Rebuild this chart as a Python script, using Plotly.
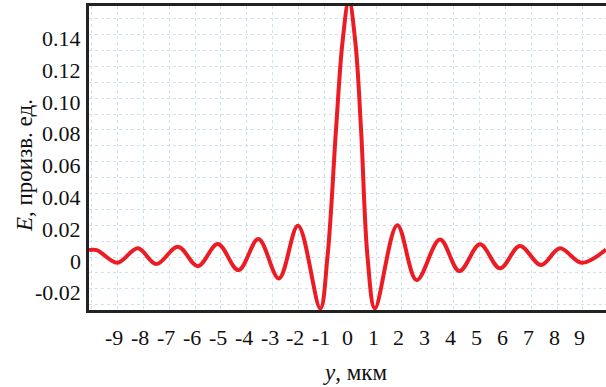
import plotly.graph_objects as go

# Data (y in µm, E in arbitrary units)
y_um = [-10.1, -9.80, -9.01, -8.21, -7.50, -6.66, -5.89, -5.12, -4.32, -3.55, -2.76, -2.02,
        -1.16, -0.88, -0.55, -0.30, -0.05, 0.20, 0.42, 0.67, 0.955,
        1.82, 2.57, 3.47, 4.22, 5.02, 5.79, 6.56, 7.38, 8.11, 8.95, 9.89]
E_vals = [0.0044, 0.0044, -0.0036, 0.0055, -0.0044, 0.0065, -0.0057, 0.0082, -0.0082, 0.0113, -0.0134, 0.0197,
          -0.0323, 0.0, 0.080, 0.135, 0.162, 0.135, 0.080, 0.0, -0.0323,
          0.0201, -0.0145, 0.0111, -0.0088, 0.0080, -0.0071, 0.0069, -0.0050, 0.0055, -0.0036, 0.0048]

x_tickvals = [-9, -8, -7, -6, -5, -4, -3, -2, -1, 0, 1, 2, 3, 4, 5, 6, 7, 8, 9]
x_ticktext = ["-9", "-8", "-7", "-6", "-5", "-4", "-3", "-2", "-1", "0", "1", "2", "3", "4", "5", "6", "7", "8", "9"]
y_tickvals = [-0.02, 0, 0.02, 0.04, 0.06, 0.08, 0.10, 0.12, 0.14]
y_ticktext = ["-0.02", "0", "0.02", "0.04", "0.06", "0.08", "0.10", "0.12", "0.14"]
x_title = "<i>y</i>, мкм"
y_title = "<i>E</i>, произв. ед."

FONT = "'Liberation Serif', 'Times New Roman', Times, serif"
GRID = "#cfe2ee"
LABELFONT = dict(family=FONT, size=22, color="#111")

fig = go.Figure()
fig.add_trace(go.Scatter(
    x=y_um, y=E_vals, mode="lines",
    line=dict(color="#ec1c24", width=4, shape="spline", smoothing=1.0),
    showlegend=False, hoverinfo="skip"))

fig.update_layout(
    width=606, height=387,
    margin=dict(l=89, r=0, t=6, b=77, autoexpand=False),
    paper_bgcolor="white", plot_bgcolor="white",
    font=dict(family=FONT, size=22, color="#111"),
)

fig.update_xaxes(
    range=[-10.1, 9.89], automargin=False,
    tickmode="array", tickvals=x_tickvals, showticklabels=False, ticks="",
    showgrid=True, gridcolor=GRID, gridwidth=1, griddash="dot",
    minor=dict(dtick=1, tick0=0, showgrid=True, gridcolor=GRID, griddash="dot"),
    showline=True, linecolor="#222", linewidth=3, mirror=True,
    zeroline=False,
)

fig.update_yaxes(
    range=[-0.0333, 0.158], automargin=False,
    tickmode="array", tickvals=y_tickvals, showticklabels=False, ticks="",
    showgrid=True, gridcolor=GRID, gridwidth=1, griddash="dot",
    minor=dict(dtick=0.01, tick0=0, showgrid=True, gridcolor=GRID, griddash="dot"),
    showline=True, linecolor="#222", linewidth=3, mirror=False,
    zeroline=False,
)

# tick labels placed on the axes' own data scales
for v, t in zip(x_tickvals, x_ticktext):
    fig.add_annotation(text=t, xref="x", yref="paper", x=v, y=-(337 - 310) / 304,
                       showarrow=False, xanchor="center", yanchor="middle", xshift=-3,
                       font=LABELFONT)
for v, t in zip(y_tickvals, y_ticktext):
    fig.add_annotation(text=t, xref="paper", yref="y", x=-(89 - 83) / 517, y=v,
                       showarrow=False, xanchor="right", yanchor="middle", yshift=-4,
                       font=LABELFONT)

fig.add_annotation(text=x_title, xref="paper", yref="paper", x=(355 - 89) / 517, y=-(372 - 310) / 304,
                   showarrow=False, xanchor="center", yanchor="middle",
                   font=dict(family=FONT, size=23, color="#111"))
fig.add_annotation(text=y_title, xref="paper", yref="paper", x=-(89 - 24) / 517, y=(310 - 166) / 304,
                   showarrow=False, xanchor="center", yanchor="middle", textangle=-90,
                   font=dict(family=FONT, size=23, color="#111"))

fig.write_html("out.html", config={"displayModeBar": False},
               post_script="document.body.style.margin='0';document.body.style.padding='0';")
